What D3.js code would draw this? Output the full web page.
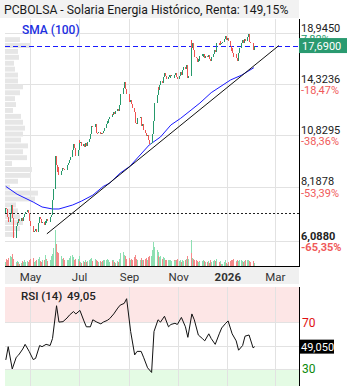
<!DOCTYPE html>
<html>
<head>
<meta charset="utf-8">
<script src="https://cdn.jsdelivr.net/npm/d3@7"></script>
<style>
  body { margin: 0; background: #fff; }
  text { font-family: Roboto, "Noto Sans", sans-serif; }
</style>
</head>
<body>
<svg id="chart" width="353" height="390"></svg>
<script>
// ---- data ----
const title = "PCBOLSA - Solaria Energia Histórico, Renta: 149,15%";
const startDate = "2025-04-01";   // first trading day, one close per weekday after it
const firstOpen = 7.10;
const closes = [
  7.30, 7.25, 6.95, 6.75,
  7.05, 7.40, 6.90, 6.50, 6.20,
  6.60, 6.75, 6.70, 6.85, 6.80,
  6.90, 6.80, 6.95, 7.05, 7.15,
  7.20, 7.10, 7.00, 6.80, 6.60,
  6.45, 6.38, 6.42, 6.50, 6.40,
  6.70, 6.95, 6.85, 6.70, 6.75,
  6.65, 6.80, 6.72, 6.85, 6.78,
  6.80, 6.95, 7.00, 7.60, 8.10,
  9.70, 9.20, 8.85, 9.10, 8.75,
  8.90, 8.95, 9.05, 9.00, 8.95,
  9.10, 9.20, 9.30, 9.45, 9.65,
  10.00, 10.35, 10.10, 9.85, 9.70,
  10.00, 10.55, 10.40, 10.45, 10.25,
  10.35, 10.15, 10.40, 10.20, 10.45,
  10.60, 10.90, 11.20, 11.40, 11.35,
  11.55, 11.30, 11.00, 10.95, 11.05,
  10.90, 11.00, 10.95, 11.10, 11.25,
  11.50, 11.70, 11.60, 11.85, 11.95,
  12.20, 12.10, 12.30, 12.15, 12.35,
  12.50, 12.40, 12.80, 13.30, 13.60,
  14.00, 14.50, 14.30, 13.95, 13.60,
  13.20, 13.00, 13.15, 12.85, 12.60,
  12.30, 11.60, 11.50, 11.75, 11.90,
  11.95, 11.70, 11.40, 11.50, 11.15,
  11.00, 10.80, 10.85, 10.55, 10.35,
  10.40, 10.90, 11.70, 12.30, 12.90,
  13.50, 14.10, 13.90, 14.30, 14.60,
  14.40, 14.90, 15.20, 14.95, 14.70,
  14.90, 15.10, 14.80, 15.00, 15.10,
  14.85, 15.05, 15.20, 14.90, 14.70,
  15.00, 15.30, 15.10, 15.50, 15.70,
  15.60, 15.90, 15.50, 14.80, 15.00,
  18.20, 17.50, 17.90, 17.30, 16.60,
  16.50, 16.20, 16.45, 16.30, 16.70,
  16.90, 16.60, 16.85, 16.50, 16.75,
  16.60, 16.80, 16.45, 16.30, 16.60,
  16.90, 17.30, 17.10, 17.60, 17.90,
  17.70, 18.10, 17.85, 17.90, 18.00,
  18.30, 18.60, 18.20, 18.40, 18.10,
  17.60, 17.20, 17.50, 17.00, 16.60,
  16.90, 16.50, 16.30, 17.00, 17.50,
  17.90, 18.20, 17.90, 18.30, 18.10,
  18.50, 18.80, 18.40, 18.00, 17.90,
  17.40, 17.30, 17.69
];
// volume in millions of shares
const volumes = [
  0.5, 0.9, 0.7, 1.0,
  1.3, 1.1, 1.5, 0.9, 0.6,
  0.5, 0.6, 0.4, 0.5, 0.3,
  0.4, 0.6, 0.5, 0.7, 0.5,
  0.6, 0.5, 0.8, 0.6, 0.9,
  1.0, 0.7, 0.5, 0.6, 0.8,
  0.9, 1.1, 0.6, 0.5, 0.7,
  0.8, 1.4, 0.9, 0.7, 0.6,
  0.5, 0.7, 1.2, 1.5, 2.2,
  4.5, 2.8, 1.8, 1.4, 1.6,
  1.2, 0.9, 0.8, 1.0, 0.7,
  0.8, 0.6, 0.7, 1.0, 1.3,
  1.4, 1.1, 0.8, 0.9, 0.6,
  0.9, 1.2, 0.6, 0.5, 0.4,
  0.6, 0.5, 0.7, 0.5, 0.6,
  0.7, 0.9, 1.0, 0.8, 0.6,
  0.9, 0.8, 0.7, 0.6, 0.5,
  0.6, 0.5, 0.6, 0.7, 0.8,
  0.7, 0.9, 0.6, 0.8, 0.5,
  0.7, 0.6, 0.8, 0.5, 0.4,
  0.6, 0.5, 0.9, 1.1, 1.6,
  1.8, 1.4, 1.2, 1.0, 0.9,
  1.0, 0.8, 0.7, 0.9, 0.8,
  1.1, 1.4, 0.9, 0.8, 0.7,
  0.8, 0.9, 1.0, 0.7, 0.8,
  0.9, 1.0, 0.8, 1.1, 1.2,
  1.3, 2.0, 3.0, 2.4, 2.2,
  2.0, 1.8, 1.2, 1.1, 1.3,
  0.9, 1.1, 1.0, 0.8, 0.7,
  0.8, 0.7, 0.6, 0.7, 0.6,
  0.7, 0.6, 0.8, 0.7, 0.9,
  0.6, 0.7, 0.5, 0.8, 0.6,
  0.7, 0.9, 0.6, 1.2, 0.9,
  3.2, 1.6, 1.0, 0.9, 0.8,
  0.7, 0.6, 0.5, 0.6, 0.5,
  0.6, 0.5, 0.7, 0.6, 0.5,
  0.5, 0.6, 0.4, 0.7, 0.5,
  0.6, 0.8, 0.6, 0.9, 0.7,
  0.5, 0.6, 0.3, 0.2, 0.3,
  0.5, 0.7, 0.4, 0.2, 0.5,
  0.6, 0.7, 0.5, 0.8, 0.9,
  0.6, 0.5, 0.7, 0.6, 0.8,
  0.7, 0.6, 0.5, 0.6, 0.7,
  0.8, 0.7, 0.5, 0.6, 0.5,
  0.6, 0.5, 0.4
];
const smaDates = ["2025-04-01", "2025-04-15", "2025-05-05", "2025-05-16", "2025-05-29", "2025-06-06",
  "2025-06-23", "2025-07-04", "2025-07-18", "2025-07-31", "2025-08-08", "2025-08-21", "2025-09-02",
  "2025-09-26", "2025-10-10", "2025-10-23", "2025-11-04", "2025-11-17", "2025-11-28", "2025-12-12",
  "2026-01-05", "2026-01-19", "2026-02-03"];
const smaValues = [8.20, 7.86, 7.53, 7.33, 7.25, 7.25, 7.41, 7.57, 7.82, 8.20, 8.35, 8.82, 9.15,
  10.28, 10.74, 11.47, 11.89, 12.44, 12.93, 13.68, 14.66, 15.06, 15.68];
const trendDates = ["2025-05-22", "2026-03-06"];
const trendValues = [6.33, 17.69];
const basePrice = 7.10;
const lastPrice = 17.69;
const lastPriceLabel = "17,6900";
const priceTicks = [18.945, 14.3236, 10.8295, 8.1878, 6.088];
const priceTickLabels = ["18,9450", "14,3236", "10,8295", "8,1878", "6,0880"];
const pctLabels = ["7,82%", "-18,47%", "-38,36%", "-53,39%", "-65,35%"];
// volume by price, top bin first
const profileRange = [6.21, 18.57];
const profileVolumes = [15, 26, 13, 14, 9, 10, 13, 13, 18, 15, 10, 11, 8, 16, 18, 20, 18, 16, 23, 18,
  22, 7, 27, 26, 13, 5, 33, 30, 11, 13, 15, 18, 15, 10];
// RSI(14), one reading every 3 trading days (last one = last day)
const rsiEvery = 3;
const rsiValues = [37.7, 49, 30, 40, 42, 47, 51, 45, 38, 39, 50, 49, 51, 50, 56, 84, 70, 70.4, 73.5, 76,
  79, 77, 80, 71, 66, 66, 72, 70, 68.5, 70, 71.5, 73, 77, 82, 84.5, 86, 90, 62, 42, 45, 45, 40, 31, 27,
  62, 72, 70, 75, 66, 68, 69, 68, 74, 66, 57, 77, 72, 59, 56, 54, 60, 56, 51, 60, 65, 69, 71, 60, 54,
  46, 50, 58, 59, 48, 49.05];
const rsiLabel = "49,05";
const rsiBoxLabel = "49,050";

// ---- layout ----
const plot = { left: 5, right: 299, top: 19, bottom: 266 };
const rsiPanel = { top: 287, bottom: 386 };
const green = "#26996b", red = "#ef5350";
const gridColor = "#e2e2e2";

const svg = d3.select("#chart");
const parse = d3.timeParse("%Y-%m-%d");

// trading days (weekdays) from the start date
const dates = [];
let day = parse(startDate);
while (dates.length < closes.length) {
  if (day.getDay() !== 0 && day.getDay() !== 6) dates.push(day);
  day = d3.timeDay.offset(day, 1);
}
const candles = closes.map((c, i) => ({
  date: dates[i],
  open: i === 0 ? firstOpen : closes[i - 1],
  close: c,
  vol: volumes[i]
}));

// scales
const x = d3.scaleTime()
  .domain([parse("2025-03-31"), parse("2026-03-31")])
  .range([plot.left, plot.right]);
const y = d3.scaleLog()
  .domain([priceTicks[priceTicks.length - 1], priceTicks[0]])
  .range([241, 33]);
const vScale = d3.scaleLinear().domain([0, d3.max(volumes)]).range([0, 36]);
const pScale = d3.scaleLinear().domain([0, d3.max(profileVolumes)]).range([0, 33]);
const rsiY = d3.scaleLinear().domain([15, 100]).range([rsiPanel.bottom + 0.5, rsiPanel.top]);

const monthTicks = x.ticks(d3.timeMonth.every(2));

// title bar
svg.append("rect").attr("x", 0).attr("y", 0).attr("width", plot.right).attr("height", 18).attr("fill", "#f2f2f2");
svg.append("text").attr("x", 4).attr("y", 14).attr("font-size", 12.2).attr("fill", "#1a1a1a").text(title);

// main plot
svg.append("clipPath").attr("id", "clipMain").append("rect")
  .attr("x", plot.left).attr("y", plot.top)
  .attr("width", plot.right - plot.left).attr("height", plot.bottom - plot.top);
const main = svg.append("g").attr("clip-path", "url(#clipMain)");

// gridlines
main.selectAll(".vgrid").data(monthTicks).join("line")
  .attr("x1", d => Math.round(x(d)) + 0.5).attr("x2", d => Math.round(x(d)) + 0.5)
  .attr("y1", plot.top).attr("y2", plot.bottom)
  .attr("stroke", gridColor);
main.selectAll(".hgrid").data(priceTicks).join("line")
  .attr("x1", plot.left).attr("x2", plot.right)
  .attr("y1", d => Math.round(y(d)) + 0.5).attr("y2", d => Math.round(y(d)) + 0.5)
  .attr("stroke", gridColor);

// volume profile
const pTop = y(profileRange[1]), pBot = y(profileRange[0]);
const binH = (pBot - pTop) / profileVolumes.length;
main.selectAll(".prof").data(profileVolumes).join("rect")
  .attr("x", plot.left)
  .attr("y", (d, i) => pTop + i * binH + 0.5)
  .attr("width", d => pScale(d))
  .attr("height", binH - 1)
  .attr("fill", "#e6e6e6");

// volume bars
main.selectAll(".vol").data(candles).join("rect")
  .attr("x", d => x(d.date) - 0.5)
  .attr("y", d => plot.bottom - vScale(d.vol))
  .attr("width", 1)
  .attr("height", d => vScale(d.vol))
  .attr("fill", d => d.close >= d.open ? "#8ddfb2" : "#f48a8a")
  .attr("shape-rendering", "crispEdges");

// reference lines
main.append("line")
  .attr("x1", plot.left).attr("x2", plot.right)
  .attr("y1", Math.round(y(basePrice)) + 0.5).attr("y2", Math.round(y(basePrice)) + 0.5)
  .attr("stroke", "#222").attr("stroke-dasharray", "2,2");
main.append("line")
  .attr("x1", plot.left).attr("x2", plot.right)
  .attr("y1", Math.round(y(lastPrice)) + 0.5).attr("y2", Math.round(y(lastPrice)) + 0.5)
  .attr("stroke", "#1a1aff").attr("stroke-width", 1.2).attr("stroke-dasharray", "5,3");

// SMA(100)
main.append("path")
  .datum(smaDates.map((d, i) => [parse(d), smaValues[i]]))
  .attr("d", d3.line().x(d => x(d[0])).y(d => y(d[1])))
  .attr("fill", "none").attr("stroke", "#1a1aff").attr("stroke-width", 1);

// trend line
main.append("path")
  .datum(trendDates.map((d, i) => [parse(d), trendValues[i]]))
  .attr("d", d3.line().x(d => x(d[0])).y(d => y(d[1])))
  .attr("fill", "none").attr("stroke", "#111").attr("stroke-width", 1);

// candles
main.selectAll(".candle").data(candles).join("rect")
  .attr("x", d => x(d.date) - 0.5)
  .attr("y", d => y(Math.max(d.open, d.close)))
  .attr("width", 1)
  .attr("height", d => Math.max(1, Math.abs(y(d.open) - y(d.close))))
  .attr("fill", d => d.close >= d.open ? green : red)
  .attr("shape-rendering", "crispEdges");

svg.append("text").attr("x", 22).attr("y", 34).attr("font-size", 12).attr("font-weight", 500)
  .attr("fill", "#1c2fe0").text("SMA (100)");

// frame
svg.append("line").attr("x1", plot.right + 0.5).attr("x2", plot.right + 0.5)
  .attr("y1", plot.top).attr("y2", plot.bottom + 1).attr("stroke", "#000");
svg.append("line").attr("x1", plot.left).attr("x2", plot.right + 1)
  .attr("y1", plot.bottom + 0.5).attr("y2", plot.bottom + 0.5).attr("stroke", "#000");

// right price axis
const axisR = svg.append("g");
priceTicks.forEach((t, i) => {
  const last = i === priceTicks.length - 1;
  axisR.append("text").attr("x", 301).attr("y", y(t) - 1.5)
    .attr("font-size", 11).attr("font-weight", last ? 700 : 400)
    .attr("fill", "#222").text(priceTickLabels[i]);
  axisR.append("text").attr("x", 301).attr("y", y(t) + 10)
    .attr("font-size", 11).attr("font-weight", last ? 700 : 400)
    .attr("fill", i === 0 ? green : "#f05a5a").text(pctLabels[i]);
});
axisR.append("rect").attr("x", 299).attr("y", y(lastPrice) - 7.5)
  .attr("width", 48).attr("height", 15).attr("fill", "#2a9a70");
axisR.append("text").attr("x", 302).attr("y", y(lastPrice) + 4.5)
  .attr("font-size", 11).attr("fill", "#fff").text(lastPriceLabel);

// x axis band
svg.append("rect").attr("x", plot.left).attr("y", plot.bottom + 1)
  .attr("width", plot.right - plot.left).attr("height", 17).attr("fill", "#f0f0f0");
const xAxis = d3.axisBottom(x)
  .tickValues(monthTicks)
  .tickSize(0)
  .tickFormat(d => d.getMonth() === 0 ? d3.timeFormat("%Y")(d) : d3.timeFormat("%b")(d));
svg.append("g")
  .attr("transform", `translate(0, ${plot.bottom + 4})`)
  .call(xAxis)
  .call(g => g.select(".domain").remove())
  .selectAll("text")
  .attr("font-family", "Roboto, sans-serif")
  .attr("font-size", 11.5)
  .attr("fill", "#333")
  .attr("font-weight", d => d.getMonth() === 0 ? 700 : 400);

// RSI panel
const rsi = svg.append("g");
rsi.append("rect").attr("x", plot.left).attr("y", rsiPanel.top)
  .attr("width", plot.right - plot.left).attr("height", rsiY(70) - rsiPanel.top).attr("fill", "#fde6e6");
rsi.append("rect").attr("x", plot.left).attr("y", rsiY(30))
  .attr("width", plot.right - plot.left).attr("height", rsiPanel.bottom - rsiY(30)).attr("fill", "#e4fbe4");
rsi.selectAll(".rv").data(monthTicks).join("line")
  .attr("x1", d => Math.round(x(d)) + 0.5).attr("x2", d => Math.round(x(d)) + 0.5)
  .attr("y1", rsiPanel.top).attr("y2", rsiPanel.bottom)
  .attr("stroke", gridColor);
rsi.selectAll(".rh").data([70, 50, 30]).join("line")
  .attr("x1", plot.left).attr("x2", plot.right)
  .attr("y1", d => Math.round(rsiY(d)) + 0.5).attr("y2", d => Math.round(rsiY(d)) + 0.5)
  .attr("stroke", gridColor);
rsi.append("path")
  .datum(rsiValues.map((v, k) => [dates[Math.min(k * rsiEvery, dates.length - 1)], v]))
  .attr("d", d3.line().x(d => x(d[0])).y(d => rsiY(d[1])))
  .attr("fill", "none").attr("stroke", "#111").attr("stroke-width", 1);
rsi.append("line").attr("x1", plot.right + 0.5).attr("x2", plot.right + 0.5)
  .attr("y1", rsiPanel.top).attr("y2", rsiPanel.bottom).attr("stroke", "#000");
rsi.append("text").attr("x", 21).attr("y", 300).attr("font-size", 11.5).attr("font-weight", 500)
  .attr("fill", "#222").text("RSI (14)");
rsi.append("text").attr("x", 67).attr("y", 300).attr("font-size", 11.5).attr("font-weight", 500)
  .attr("fill", "#222").text(rsiLabel);
rsi.append("text").attr("x", 302).attr("y", rsiY(70) + 4.5).attr("font-size", 12)
  .attr("fill", "#e01010").text("70");
rsi.append("text").attr("x", 302).attr("y", rsiY(30) + 4.5).attr("font-size", 12)
  .attr("fill", "#0a8a0a").text("30");
rsi.append("rect").attr("x", 299).attr("y", rsiY(rsiValues[rsiValues.length - 1]) - 7)
  .attr("width", 35).attr("height", 14).attr("fill", "#000");
rsi.append("text").attr("x", 301).attr("y", rsiY(rsiValues[rsiValues.length - 1]) + 4)
  .attr("font-size", 11).attr("fill", "#fff").text(rsiBoxLabel);
</script>
</body>
</html>
